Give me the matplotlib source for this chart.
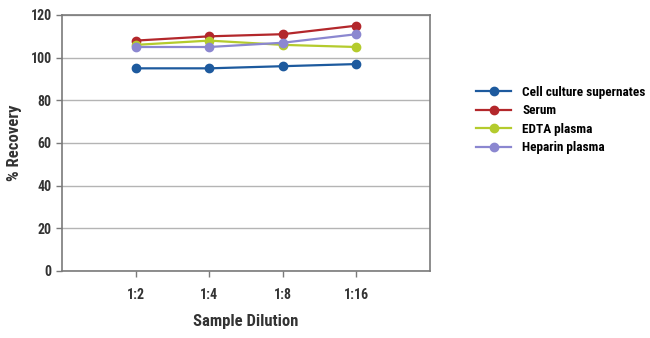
import matplotlib
matplotlib.use('Agg')
import matplotlib.pyplot as plt
from matplotlib import font_manager

dilutions = ['1:2', '1:4', '1:8', '1:16']
cell_culture = [95, 95, 96, 97]
serum = [108, 110, 111, 115]
edta_plasma = [106, 108, 106, 105]
heparin_plasma = [105, 105, 107, 111]

series_names = ['Cell culture supernates', 'Serum', 'EDTA plasma', 'Heparin plasma']
series_colors = ['#1d5a9e', '#b3272b', '#b4cb2d', '#8b87d0']

# condensed bold face if one is around
names = {f.name for f in font_manager.fontManager.ttflist}
family = 'DejaVu Sans'
for cand in ['Roboto Condensed', 'Liberation Sans Narrow', 'Open Sans Condensed']:
    if cand in names:
        family = cand
        break
plt.rcParams['font.family'] = family
plt.rcParams['font.weight'] = 'bold'

fig = plt.figure(figsize=(6.5, 3.38), dpi=100)
ax = fig.add_axes([62 / 650, 1 - 271 / 338, 368 / 650, 256 / 338])

x = list(range(1, len(dilutions) + 1))
for vals, name, col in zip([cell_culture, serum, edta_plasma, heparin_plasma],
                           series_names, series_colors):
    ax.plot(x, vals, color=col, lw=1.6, marker='o', ms=6, label=name)

ax.set_xlim(0, 5)
ax.set_ylim(0, 120)
ax.set_yticks(range(0, 121, 20))
ax.set_xticks(x)
ax.set_xticklabels(dilutions)
ax.grid(axis='y', color='#b4b4b4', lw=1)
ax.set_axisbelow(True)
for s in ax.spines.values():
    s.set_color('#7a7a7a')
    s.set_linewidth(1.2)
ax.tick_params(colors='#7a7a7a', labelcolor='#333333', labelsize=10, length=4, width=1)
ax.tick_params(axis='x', pad=8)
ax.set_xlabel('Sample Dilution', fontsize=12, fontweight='bold', color='#333333', labelpad=9)
ax.set_ylabel('% Recovery', fontsize=12, fontweight='bold', color='#333333', labelpad=6)

fig.legend(loc='upper left', bbox_to_anchor=(464 / 650, 1 - 74 / 338), frameon=False,
           handlelength=2.7, handletextpad=0.8, labelspacing=0.42,
           prop={'family': family, 'weight': 'bold', 'size': 9.5})

fig.savefig('out.png', dpi=100)
